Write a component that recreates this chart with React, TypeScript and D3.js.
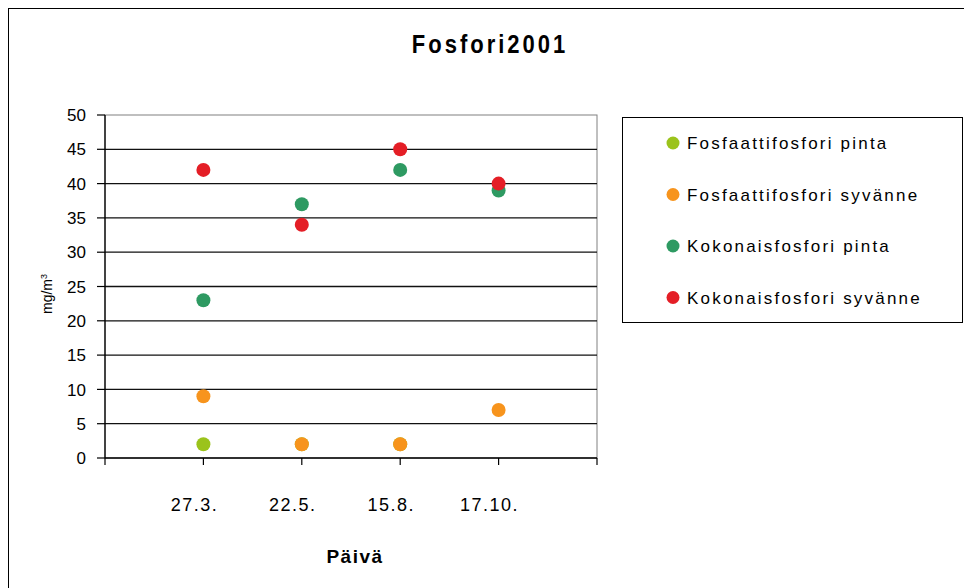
import * as d3 from 'd3';

const dates = ['27.3.', '22.5.', '15.8.', '17.10.'];
const seriesNames = [
  'Fosfaattifosfori pinta',
  'Fosfaattifosfori syvänne',
  'Kokonaisfosfori pinta',
  'Kokonaisfosfori syvänne',
];
const fosfaattiPinta: (number | null)[] = [2, 2, 2, null];
const fosfaattiSyvanne: (number | null)[] = [9, 2, 2, 7];
const kokonaisPinta: (number | null)[] = [23, 37, 42, 39];
const kokonaisSyvanne: (number | null)[] = [42, 34, 45, 40];
const colors = ['#9bc31b', '#f7941d', '#2e9a62', '#e41e26'];
const yTicks = [0, 5, 10, 15, 20, 25, 30, 35, 40, 45, 50];

const W = 964;
const H = 588;
const plot = { left: 105, right: 597, top: 115, bottom: 458 };

export default function App() {
  const series = [fosfaattiPinta, fosfaattiSyvanne, kokonaisPinta, kokonaisSyvanne];

  const x = d3.scaleLinear().domain([0, dates.length + 1]).range([plot.left, plot.right]);
  const y = d3.scaleLinear().domain([0, 50]).range([plot.bottom, plot.top]);
  const xTicks = d3.range(0, dates.length + 2);

  const font = '"Liberation Sans", Arial, sans-serif';

  return (
    <div style={{ position: 'absolute', left: 0, top: 0 }}>
      <svg width={W} height={H} style={{ display: 'block', background: '#fff' }}>
        {/* chart area border */}
        <rect x={8.5} y={8.5} width={W} height={H} fill="#fff" stroke="#000" strokeWidth={1} />

        <text
          transform="translate(490,53) scale(1,1.2)"
          textAnchor="middle"
          fontFamily={font}
          fontWeight="bold"
          fontSize={22}
          letterSpacing={3}
          fill="#000"
        >
          Fosfori2001
        </text>

        {/* plot area */}
        <rect
          x={plot.left}
          y={plot.top}
          width={plot.right - plot.left}
          height={plot.bottom - plot.top}
          fill="#fff"
          stroke="#808080"
          strokeWidth={1}
        />

        {yTicks.map(t => (
          <g key={t}>
            {t > 0 && t < 50 && (
              <line x1={plot.left} x2={plot.right} y1={y(t)} y2={y(t)} stroke="#111" strokeWidth={1.3} />
            )}
            <line x1={plot.left - 8} x2={plot.left} y1={y(t)} y2={y(t)} stroke="#000" strokeWidth={1.2} />
            <text
              x={plot.left - 19}
              y={y(t)}
              dy="0.36em"
              textAnchor="end"
              fontFamily={font}
              fontSize={17}
              fill="#000"
            >
              {t}
            </text>
          </g>
        ))}

        {/* axes */}
        <line x1={plot.left} x2={plot.left} y1={plot.top} y2={plot.bottom} stroke="#000" strokeWidth={1.3} />
        <line x1={plot.left} x2={plot.right} y1={plot.bottom} y2={plot.bottom} stroke="#000" strokeWidth={1.3} />
        {xTicks.map(t => (
          <line key={t} x1={x(t)} x2={x(t)} y1={plot.bottom} y2={plot.bottom + 7} stroke="#000" strokeWidth={1.2} />
        ))}
        {dates.map((d, i) => (
          <text
            key={d}
            x={x(i + 1)}
            dx={-9}
            y={511}
            textAnchor="middle"
            fontFamily={font}
            fontSize={18}
            letterSpacing={1.5}
            fill="#000"
          >
            {d}
          </text>
        ))}

        <text
          x={355}
          y={563}
          textAnchor="middle"
          fontFamily={font}
          fontWeight="bold"
          fontSize={19}
          letterSpacing={1.5}
          fill="#000"
        >
          Päivä
        </text>

        <text
          transform={`translate(52,294) rotate(-90)`}
          textAnchor="middle"
          fontFamily={font}
          fontSize={14}
          fill="#000"
        >
          mg/m
          <tspan fontSize={9} dy={-5}>3</tspan>
        </text>

        {/* points */}
        {series.map((vals, si) =>
          vals.map((v, i) =>
            v == null ? null : (
              <circle key={`${si}-${i}`} cx={x(i + 1)} cy={y(v)} r={7} fill={colors[si]} />
            )
          )
        )}

        {/* legend */}
        <rect x={622.5} y={117.5} width={340} height={205} fill="#fff" stroke="#000" strokeWidth={1} />
        {seriesNames.map((name, i) => (
          <g key={name} transform={`translate(673,${143 + i * 51.5})`}>
            <circle cx={0} cy={0} r={6.5} fill={colors[i]} />
            <text
              x={14}
              y={0}
              dy="0.36em"
              fontFamily={font}
              fontSize={17}
              letterSpacing={2.2}
              fill="#000"
            >
              {name}
            </text>
          </g>
        ))}
      </svg>
    </div>
  );
}
